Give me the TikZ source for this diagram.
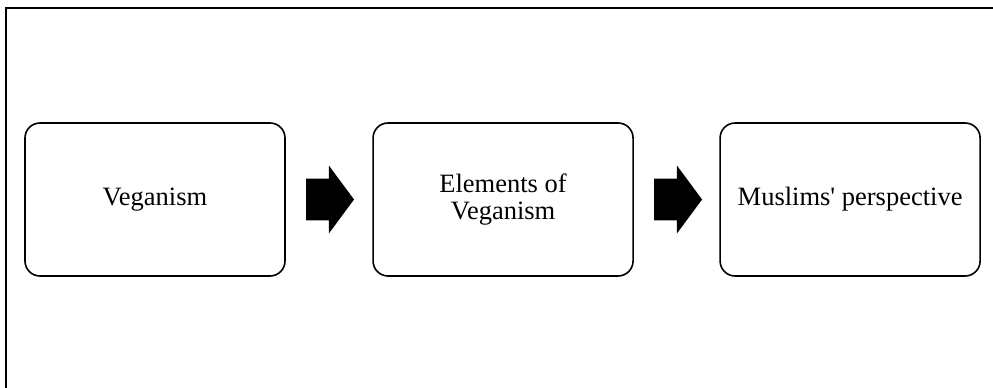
\documentclass[tikz,border=0pt]{standalone}
\usepackage{fontspec}
\setmainfont{Liberation Serif}
\usetikzlibrary{positioning,shapes.arrows}

\begin{document}
\begin{tikzpicture}[
  x=1pt, y=-1pt,
  node distance=19pt,
  stagebox/.style={draw, line width=1.6pt, rounded corners=15pt, fill=white,
                   minimum width=260pt, minimum height=153pt, align=center,
                   font=\fontsize{26.5}{27.5}\selectfont},
  flowarrow/.style={single arrow, fill=black, draw=none,
                    inner xsep=0pt, inner ysep=20.5pt,
                    minimum height=48pt, minimum width=68pt,
                    single arrow head extend=13pt, single arrow tip angle=107}
]
  \useasboundingbox (0,0) rectangle (993,388);
  \clip (0,0) rectangle (993,388);
  % outer frame, cut off at the right and bottom
  \draw[line width=1.6pt] (6,8) rectangle (1010,400);

  \node[stagebox] (vegan) at (155,199.5) {Veganism};
  \node[flowarrow, right=20pt of vegan] (arr1) {};
  \node[stagebox, right=18pt of arr1] (elements) {Elements of\\ Veganism};
  \node[flowarrow, right=20pt of elements] (arr2) {};
  \node[stagebox, right=17pt of arr2] (muslims) {Muslims\textquotesingle{} perspective};
\end{tikzpicture}
\end{document}
